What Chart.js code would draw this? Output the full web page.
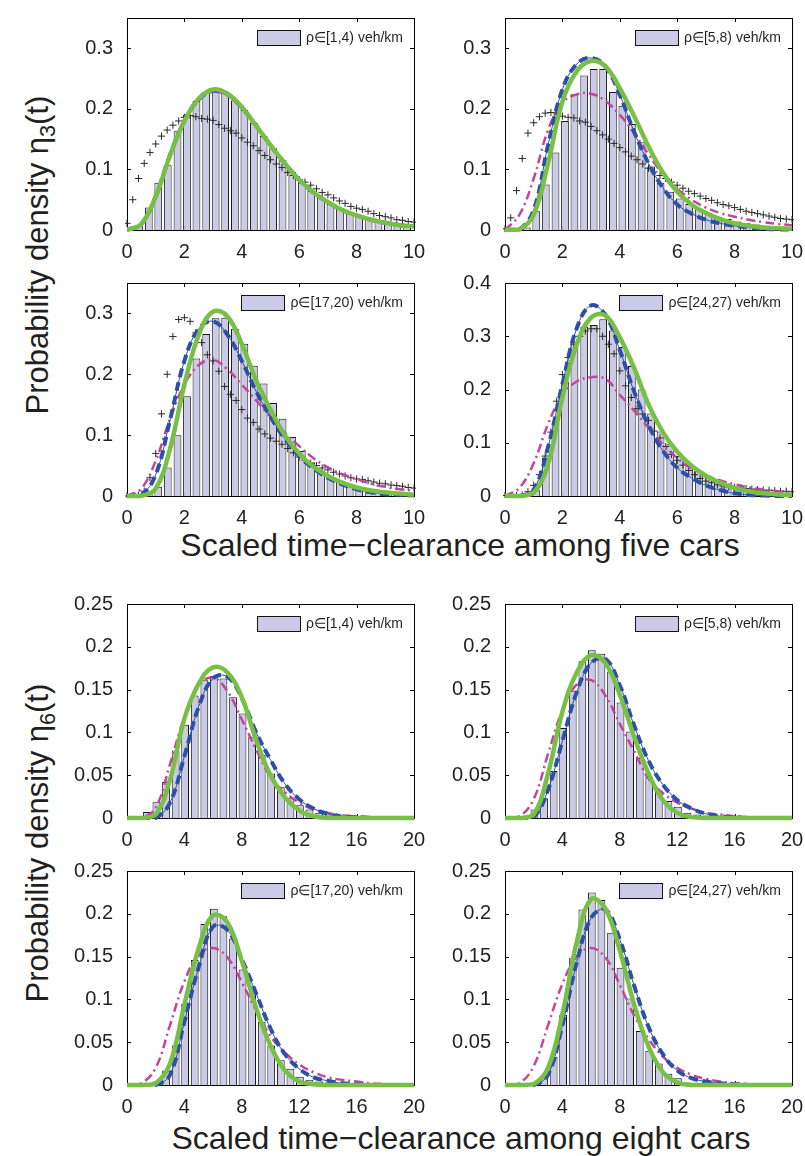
<!DOCTYPE html>
<html><head><meta charset="utf-8">
<script src="https://cdn.jsdelivr.net/npm/chart.js@4.4.0/dist/chart.umd.min.js"></script>
<style>
html,body{margin:0;padding:0;background:#fff;}
body{width:805px;height:1156px;position:relative;overflow:hidden;font-family:"Liberation Sans",Arial,Helvetica,sans-serif;color:#231f20;}
canvas{position:absolute;}
.xt{position:absolute;width:700px;height:40px;line-height:40px;text-align:center;font-size:32px;white-space:nowrap;}
.yt{position:absolute;width:500px;height:40px;line-height:40px;text-align:center;font-size:31px;white-space:nowrap;transform:rotate(-90deg);}
.sb{font-size:0.7em;position:relative;top:0.3em;}
</style></head><body>
<div class="yt" style="left:-212px;top:235px">Probability density η<span class="sb">3</span>(t)</div>
<div class="xt" style="left:110px;top:525px">Scaled time−clearance among five cars</div>
<div class="yt" style="left:-212px;top:823px">Probability density η<span class="sb">6</span>(t)</div>
<div class="xt" style="left:111px;top:1118px">Scaled time−clearance among eight cars</div>
<script>
// ---------- data ----------
const xTicksTop = [0, 2, 4, 6, 8, 10];
const xTicksBot = [0, 4, 8, 12, 16, 20];
const yTicks35 = [0, 0.1, 0.2, 0.3];
const yTicks40 = [0, 0.1, 0.2, 0.3, 0.4];
const yTicks25 = [0, 0.05, 0.1, 0.15, 0.2, 0.25];
const legendLabels = ["ρ∈[1,4) veh/km", "ρ∈[5,8) veh/km", "ρ∈[17,20) veh/km", "ρ∈[24,27) veh/km"];

const binTop = [0.09,0.42,0.76,1.09,1.42,1.76,2.09,2.42,2.76,3.09,3.42,3.76,4.09,4.42,4.76,5.09,5.42,5.76,6.09,6.42,6.76,7.09,7.42,7.76,8.09,8.42,8.76,9.09,9.42,9.76];
const binBot = [0.05,0.72,1.39,2.05,2.72,3.39,4.05,4.72,5.39,6.05,6.72,7.39,8.05,8.72,9.39,10.05,10.72,11.39,12.05,12.72,13.39,14.05,14.72,15.39,16.05,16.72,17.39,18.05,18.72,19.39];
const xTop = [0,0.5,1,1.5,2,2.5,3,3.5,4,4.5,5,5.5,6,6.5,7,7.5,8,8.5,9,9.5,10];
const xBot = [0,1,2,3,4,5,6,7,8,9,10,11,12,13,14,15,16,17,18,19,20];
const xPlus = [0,0.2,0.4,0.6,0.8,1,1.2,1.4,1.6,1.8,2,2.2,2.4,2.6,2.8,3,3.2,3.4,3.6,3.8,4,4.2,4.4,4.6,4.8,5,5.2,5.4,5.6,5.8,6,6.2,6.4,6.6,6.8,7,7.2,7.4,7.6,7.8,8,8.2,8.4,8.6,8.8,9,9.2,9.4,9.6,9.8,10];

// five cars, rho in [1,4)
const p1Bars = [0.001,0.006,0.037,0.078,0.107,0.163,0.19,0.213,0.227,0.232,0.227,0.214,0.198,0.177,0.155,0.135,0.115,0.096,0.079,0.065,0.053,0.043,0.035,0.028,0.023,0.018,0.014,0.011,0.009,0.007];
const p1Green = [0,0.01,0.055,0.123,0.18,0.217,0.232,0.225,0.203,0.172,0.14,0.11,0.083,0.062,0.046,0.033,0.024,0.017,0.012,0.008,0.006];
const p1Blue = [0,0.01,0.056,0.124,0.18,0.216,0.23,0.224,0.202,0.172,0.14,0.11,0.083,0.062,0.046,0.033,0.024,0.017,0.012,0.008,0.006];
const p1Magenta = [0,0.011,0.057,0.122,0.178,0.214,0.228,0.222,0.2,0.171,0.14,0.11,0.084,0.063,0.047,0.034,0.025,0.018,0.013,0.009,0.007];
const p1Plus = [0.011,0.05,0.085,0.11,0.128,0.142,0.155,0.165,0.173,0.18,0.186,0.189,0.187,0.184,0.183,0.181,0.174,0.168,0.164,0.16,0.152,0.145,0.139,0.131,0.123,0.116,0.109,0.103,0.095,0.09,0.083,0.079,0.074,0.068,0.062,0.058,0.053,0.048,0.044,0.039,0.036,0.034,0.031,0.027,0.024,0.022,0.02,0.017,0.016,0.014,0.013];

// five cars, rho in [5,8)
const p2Bars = [0,0,0.004,0.031,0.075,0.128,0.18,0.224,0.255,0.266,0.266,0.228,0.205,0.175,0.145,0.105,0.078,0.063,0.052,0.043,0.035,0.028,0.022,0.018,0.014,0.011,0.009,0.007,0.005,0.004];
const p2Green = [0,0.001,0.025,0.11,0.212,0.262,0.279,0.27,0.234,0.188,0.138,0.095,0.063,0.042,0.028,0.018,0.011,0.007,0.004,0.003,0.002];
const p2Blue = [0,0.001,0.033,0.14,0.232,0.274,0.284,0.27,0.223,0.162,0.11,0.07,0.042,0.027,0.017,0.011,0.007,0.004,0.002,0.001,0.001];
const p2Magenta = [0,0.025,0.085,0.165,0.21,0.224,0.225,0.213,0.19,0.16,0.125,0.092,0.068,0.05,0.037,0.028,0.022,0.017,0.013,0.01,0.008];
const p2Plus = [0.002,0.02,0.065,0.118,0.16,0.177,0.187,0.193,0.194,0.193,0.188,0.186,0.185,0.18,0.178,0.171,0.164,0.157,0.15,0.143,0.136,0.129,0.122,0.116,0.109,0.102,0.096,0.09,0.085,0.079,0.074,0.069,0.064,0.06,0.056,0.052,0.049,0.045,0.042,0.04,0.037,0.034,0.031,0.029,0.027,0.025,0.023,0.021,0.019,0.018,0.017];

// five cars, rho in [17,20)
const p3Bars = [0,0.002,0.005,0.015,0.047,0.1,0.164,0.226,0.266,0.292,0.293,0.275,0.25,0.214,0.185,0.153,0.127,0.097,0.074,0.055,0.042,0.031,0.023,0.018,0.014,0.011,0.009,0.006,0.005,0.004];
const p3Green = [0,0,0.012,0.078,0.183,0.265,0.303,0.295,0.25,0.19,0.142,0.1,0.07,0.048,0.033,0.022,0.014,0.009,0.006,0.004,0.002];
const p3Blue = [0,0.002,0.035,0.125,0.222,0.275,0.287,0.265,0.222,0.172,0.13,0.094,0.066,0.045,0.03,0.019,0.011,0.006,0.003,0.002,0.001];
const p3Magenta = [0,0.012,0.058,0.127,0.183,0.215,0.224,0.208,0.183,0.157,0.13,0.104,0.082,0.062,0.047,0.036,0.028,0.02,0.015,0.011,0.009];
const p3Plus = [0,0,0.001,0.008,0.03,0.07,0.135,0.2,0.262,0.29,0.293,0.287,0.268,0.252,0.232,0.222,0.205,0.18,0.167,0.157,0.142,0.128,0.121,0.11,0.102,0.095,0.09,0.085,0.078,0.071,0.064,0.059,0.054,0.05,0.046,0.043,0.039,0.036,0.033,0.03,0.028,0.027,0.025,0.023,0.021,0.02,0.018,0.017,0.016,0.014,0.013];

// five cars, rho in [24,27)
const p4Bars = [0,0,0,0.011,0.072,0.137,0.215,0.29,0.318,0.321,0.332,0.311,0.28,0.244,0.2,0.155,0.121,0.097,0.075,0.06,0.047,0.037,0.029,0.022,0.018,0.014,0.011,0.009,0.007,0.006];
const p4Green = [0,0,0.006,0.06,0.185,0.285,0.335,0.339,0.298,0.24,0.172,0.12,0.083,0.057,0.038,0.025,0.015,0.009,0.005,0.003,0.002];
const p4Blue = [0,0,0.012,0.092,0.21,0.315,0.358,0.34,0.274,0.196,0.133,0.085,0.053,0.034,0.02,0.011,0.005,0.002,0.001,0,0];
const p4Magenta = [0,0.015,0.062,0.135,0.19,0.215,0.223,0.22,0.19,0.16,0.128,0.097,0.071,0.052,0.038,0.029,0.022,0.016,0.012,0.009,0.006];
const p4Plus = [0.001,0.001,0.001,0.002,0.008,0.02,0.04,0.075,0.12,0.178,0.228,0.26,0.285,0.3,0.31,0.314,0.314,0.3,0.285,0.267,0.235,0.207,0.185,0.164,0.154,0.142,0.122,0.109,0.093,0.078,0.067,0.058,0.048,0.04,0.033,0.028,0.025,0.021,0.019,0.017,0.016,0.015,0.014,0.013,0.012,0.011,0.011,0.01,0.009,0.009,0.008];

// eight cars, rho in [1,4)
const p5Bars = [0,0.0015,0.007,0.0185,0.042,0.079,0.109,0.143,0.161,0.166,0.163,0.141,0.122,0.095,0.074,0.052,0.036,0.023,0.015,0.01,0.006,0.004,0.003,0.002,0.001,0.001,0.0005,0,0,0];
const p5Green = [0,0,0.004,0.045,0.116,0.157,0.176,0.17,0.141,0.091,0.05,0.024,0.009,0.002,0,0,0,0,0,0,0];
const p5Blue = [0,0,0,0.018,0.072,0.13,0.163,0.165,0.14,0.1,0.068,0.04,0.022,0.011,0.005,0.002,0.001,0,0,0,0];
const p5Magenta = [0,0,0.012,0.063,0.118,0.155,0.164,0.148,0.115,0.08,0.048,0.03,0.018,0.01,0.006,0.003,0.002,0.001,0,0,0];

// eight cars, rho in [5,8)
const p6Bars = [0,0,0.002,0.01,0.023,0.055,0.105,0.148,0.183,0.196,0.192,0.171,0.135,0.101,0.07,0.048,0.032,0.02,0.013,0.006,0.004,0.003,0.002,0.001,0.001,0,0,0,0,0];
const p6Green = [0,0,0.004,0.052,0.124,0.17,0.19,0.181,0.144,0.095,0.052,0.021,0.006,0.001,0,0,0,0,0,0,0];
const p6Blue = [0,0,0.001,0.033,0.09,0.147,0.181,0.186,0.155,0.108,0.067,0.039,0.021,0.011,0.005,0.002,0.001,0,0,0,0];
const p6Magenta = [0,0.002,0.022,0.075,0.126,0.156,0.161,0.143,0.11,0.078,0.046,0.029,0.018,0.011,0.006,0.004,0.002,0.001,0,0,0];

// eight cars, rho in [17,20)
const p7Bars = [0,0,0.001,0.004,0.017,0.046,0.095,0.146,0.188,0.206,0.197,0.171,0.135,0.108,0.074,0.046,0.029,0.019,0.0095,0.006,0.004,0.003,0.002,0.001,0.001,0,0,0,0,0];
const p7Green = [0,0,0.002,0.025,0.094,0.16,0.198,0.19,0.145,0.09,0.046,0.017,0.004,0.001,0,0,0,0,0,0,0];
const p7Blue = [0,0,0,0.012,0.074,0.138,0.185,0.181,0.147,0.107,0.066,0.036,0.019,0.009,0.005,0.002,0.001,0,0,0,0];
const p7Magenta = [0,0.002,0.02,0.07,0.121,0.152,0.16,0.149,0.12,0.087,0.057,0.038,0.024,0.015,0.009,0.006,0.004,0.002,0.001,0,0];

// eight cars, rho in [24,27)
const p8Bars = [0,0,0,0.003,0.008,0.033,0.082,0.148,0.205,0.225,0.216,0.178,0.137,0.101,0.063,0.04,0.025,0.013,0.008,0.003,0.002,0.001,0.001,0,0,0,0,0,0,0];
const p8Green = [0,0,0.001,0.02,0.083,0.167,0.217,0.206,0.157,0.094,0.045,0.015,0.003,0,0,0,0,0,0,0,0];
const p8Blue = [0,0,0,0.012,0.07,0.143,0.195,0.205,0.17,0.116,0.068,0.036,0.017,0.008,0.004,0.002,0.001,0,0,0,0];
const p8Magenta = [0,0.002,0.022,0.07,0.118,0.15,0.16,0.149,0.117,0.081,0.054,0.033,0.02,0.012,0.007,0.004,0.002,0.001,0,0,0];

// ---------- layout (plot-area boxes: left, top, width, height) ----------
const boxes = [[127,12,287,218],[505,12,287,218],[127,277,287,219],[505,277,287,219],
               [127,598,287,220],[505,598,287,220],[127,865,287,220],[505,865,287,220]];

const panels = [
  {bins:binTop, bars:p1Bars, cx:xTop, green:p1Green, blue:p1Blue, mag:p1Magenta, plus:p1Plus, xMax:10, xT:xTicksTop, yMax:0.35, yT:yTicks35, leg:legendLabels[0]},
  {bins:binTop, bars:p2Bars, cx:xTop, green:p2Green, blue:p2Blue, mag:p2Magenta, plus:p2Plus, xMax:10, xT:xTicksTop, yMax:0.35, yT:yTicks35, leg:legendLabels[1]},
  {bins:binTop, bars:p3Bars, cx:xTop, green:p3Green, blue:p3Blue, mag:p3Magenta, plus:p3Plus, xMax:10, xT:xTicksTop, yMax:0.35, yT:yTicks35, leg:legendLabels[2]},
  {bins:binTop, bars:p4Bars, cx:xTop, green:p4Green, blue:p4Blue, mag:p4Magenta, plus:p4Plus, xMax:10, xT:xTicksTop, yMax:0.4, yT:yTicks40, leg:legendLabels[3]},
  {bins:binBot, bars:p5Bars, cx:xBot, green:p5Green, blue:p5Blue, mag:p5Magenta, plus:null, xMax:20, xT:xTicksBot, yMax:0.25, yT:yTicks25, leg:legendLabels[0]},
  {bins:binBot, bars:p6Bars, cx:xBot, green:p6Green, blue:p6Blue, mag:p6Magenta, plus:null, xMax:20, xT:xTicksBot, yMax:0.25, yT:yTicks25, leg:legendLabels[1]},
  {bins:binBot, bars:p7Bars, cx:xBot, green:p7Green, blue:p7Blue, mag:p7Magenta, plus:null, xMax:20, xT:xTicksBot, yMax:0.25, yT:yTicks25, leg:legendLabels[2]},
  {bins:binBot, bars:p8Bars, cx:xBot, green:p8Green, blue:p8Blue, mag:p8Magenta, plus:null, xMax:20, xT:xTicksBot, yMax:0.25, yT:yTicks25, leg:legendLabels[3]}
];

const FONT = '"Liberation Sans", Arial, Helvetica, sans-serif';
const TXT = '#231f20';
const BAR_FILL = '#cbcbe7';
const PAD_L = 70, PAD_T = 12, PAD_R = 15, PAD_B = 30;

const toPts = (xs, ys) => ys.map((y, i) => ({x: xs[i], y: y}));
const fmt = v => String(Math.round(v * 1000) / 1000);

function framePlugin(legendText) {
  return {
    id: 'frame',
    beforeDatasetsDraw(chart) {
      const {ctx, chartArea: a, scales: {x, y}} = chart;
      ctx.save();
      ctx.strokeStyle = '#000';
      ctx.lineWidth = 1;
      ctx.strokeRect(a.left + 0.5, a.top + 0.5, a.right - a.left, a.bottom - a.top);
      ctx.beginPath();
      x.ticks.forEach(t => {
        if (t.value <= x.min || t.value >= x.max) return;
        const px = Math.round(x.getPixelForValue(t.value)) + 0.5;
        ctx.moveTo(px, a.bottom); ctx.lineTo(px, a.bottom - 4);
        ctx.moveTo(px, a.top); ctx.lineTo(px, a.top + 4);
      });
      y.ticks.forEach(t => {
        if (t.value <= y.min || t.value >= y.max) return;
        const py = Math.round(y.getPixelForValue(t.value)) + 0.5;
        ctx.moveTo(a.left, py); ctx.lineTo(a.left + 4, py);
        ctx.moveTo(a.right, py); ctx.lineTo(a.right - 4, py);
      });
      ctx.stroke();
      ctx.restore();
    },
    afterDraw(chart) {
      const {ctx, chartArea: a} = chart;
      ctx.save();
      ctx.font = '14px ' + FONT;
      const tw = ctx.measureText(legendText).width;
      const tr = a.right - 11;
      const tl = tr - tw;
      const rw = 43, rh = 15;
      const rx = Math.round(tl - 6 - rw), ry = a.top + 12;
      ctx.fillStyle = BAR_FILL;
      ctx.fillRect(rx, ry, rw, rh);
      ctx.strokeStyle = '#111';
      ctx.lineWidth = 1;
      ctx.strokeRect(rx + 0.5, ry + 0.5, rw, rh);
      ctx.fillStyle = TXT;
      ctx.textBaseline = 'middle';
      ctx.textAlign = 'left';
      ctx.fillText(legendText, tl, ry + rh / 2 + 1);
      ctx.restore();
    }
  };
}

panels.forEach((p, i) => {
  const [L, T, W, H] = boxes[i];
  const c = document.createElement('canvas');
  const cw = PAD_L + W + PAD_R, ch = PAD_T + H + PAD_B;
  c.width = cw; c.height = ch;
  c.style.left = (L - PAD_L) + 'px';
  c.style.top = (T - PAD_T) + 'px';
  c.style.width = cw + 'px'; c.style.height = ch + 'px';
  document.body.appendChild(c);

  const clip = {left: 0, right: 0, top: 0, bottom: 4};
  const datasets = [
    {type: 'line', data: toPts(p.cx, p.green), borderColor: '#78c043', borderWidth: 4.5, pointRadius: 0, tension: 0.4, order: 1, clip: clip},
    {type: 'line', data: toPts(p.cx, p.blue), borderColor: '#2d50a6', borderWidth: 4, borderDash: [9, 5], pointRadius: 0, tension: 0.4, order: 2, clip: clip},
    {type: 'line', data: toPts(p.cx, p.blue), borderColor: '#2d50a6', borderWidth: 1, pointRadius: 0, tension: 0.4, order: 2, clip: clip},
    {type: 'line', data: toPts(p.cx, p.mag), borderColor: '#c2449e', borderWidth: 2.5, borderDash: [9, 4, 2, 4], pointRadius: 0, tension: 0.4, order: 3, clip: clip}
  ];
  if (p.plus) {
    datasets.push({type: 'line', data: toPts(xPlus, p.plus), showLine: false, pointStyle: 'cross', pointRadius: 3.6,
      pointBorderColor: '#2a2a2a', pointBorderWidth: 1, pointBackgroundColor: '#2a2a2a', order: 4, clip: 2});
  }
  datasets.push({type: 'bar', data: toPts(p.bins, p.bars), backgroundColor: BAR_FILL, borderColor: '#151515',
    borderWidth: 1, barPercentage: 0.82, categoryPercentage: 1, order: 5});

  new Chart(c, {
    type: 'bar',
    data: {datasets: datasets},
    options: {
      responsive: false,
      maintainAspectRatio: false,
      devicePixelRatio: 1,
      animation: false,
      events: [],
      layout: {padding: {left: 0, top: PAD_T, right: PAD_R, bottom: 0}},
      plugins: {legend: {display: false}, tooltip: {enabled: false}},
      scales: {
        x: {
          type: 'linear', min: 0, max: p.xMax, offset: false,
          grid: {display: false}, border: {display: false},
          afterBuildTicks: s => { s.ticks = p.xT.map(v => ({value: v})); },
          afterFit: s => { s.height = PAD_B; },
          ticks: {autoSkip: false, maxRotation: 0, minRotation: 0, padding: 2, color: TXT,
            font: {family: FONT, size: 20}, callback: v => fmt(v)}
        },
        y: {
          type: 'linear', min: 0, max: p.yMax,
          grid: {display: false}, border: {display: false},
          afterBuildTicks: s => { s.ticks = p.yT.map(v => ({value: v})); },
          afterFit: s => { s.width = PAD_L; },
          ticks: {padding: 6, color: TXT, font: {family: FONT, size: 20}, callback: v => fmt(v)}
        }
      }
    },
    plugins: [framePlugin(p.leg)]
  });
});
</script>
</body></html>
